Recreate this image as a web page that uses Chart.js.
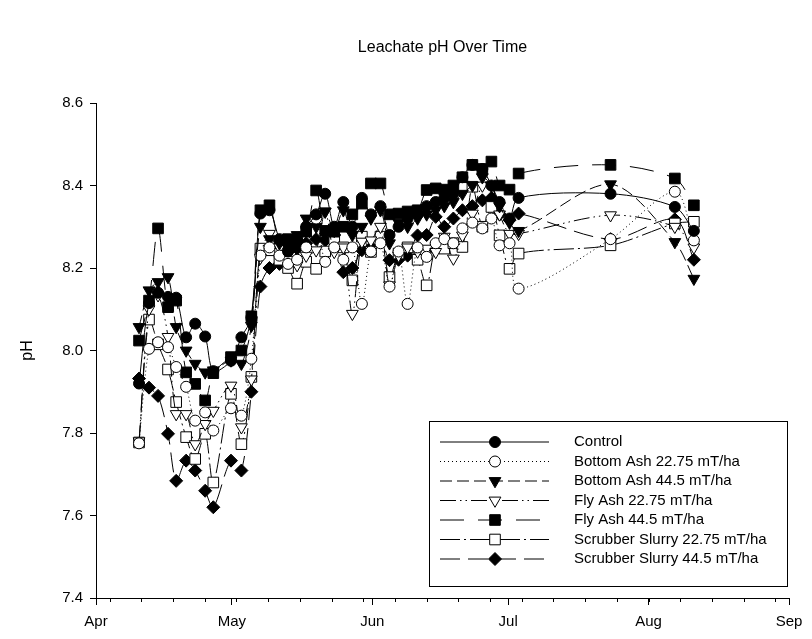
<!DOCTYPE html>
<html>
<head>
<meta charset="utf-8">
<title>Leachate pH Over Time</title>
<script src="https://cdn.jsdelivr.net/npm/chart.js@4.4.1/dist/chart.umd.min.js"></script>
<style>
  html, body { margin: 0; padding: 0; background: #fff; }
</style>
</head>
<body>
<canvas id="chart" width="812" height="639"></canvas>
<script>
// sampling days, counted from 1 April
const days = [9.5, 11.7, 13.7, 15.9, 17.7, 19.9, 21.9, 24.1, 25.9, 29.8, 32.1, 34.3, 36.3, 38.3,
  40.5, 42.4, 44.4, 46.4, 48.6, 50.6, 52.6, 54.6, 56.6, 58.7, 60.7, 62.8, 64.8, 66.8, 68.8,
  71.0, 73.0, 75.0, 76.9, 78.9, 80.9, 83.1, 85.3, 87.3, 89.1, 91.3, 93.3,
  113.6, 127.8, 132.0];

const control = [7.92, 8.115, 8.14, 8.13, 8.128, 8.032, 8.065, 8.034, 7.95, 7.975, 8.032, 8.08, 8.332, 8.34,
  8.27, 8.24, 8.27, 8.30, 8.33, 8.38, 8.30, 8.36, 8.30, 8.37, 8.33, 8.35, 8.28, 8.30, 8.32,
  8.33, 8.35, 8.36, 8.37, 8.38, 8.42, 8.45, 8.44, 8.40, 8.36, 8.32, 8.37,
  8.38, 8.348, 8.29];
const bottomAsh22 = [7.775, 8.004, 8.02, 8.008, 7.96, 7.912, 7.83, 7.85, 7.806, 7.86, 7.842, 7.98, 8.23, 8.25,
  8.23, 8.21, 8.22, 8.25, 8.32, 8.215, 8.25, 8.22, 8.25, 8.113, 8.24, 8.26, 8.155, 8.24, 8.113,
  8.25, 8.227, 8.26, 8.27, 8.26, 8.296, 8.31, 8.296, 8.32, 8.255, 8.26, 8.15,
  8.27, 8.385, 8.267];
const bottomAsh44 = [8.057, 8.146, 8.166, 8.178, 8.057, 8.0, 7.968, 7.947, 7.952, 7.976, 7.968, 8.06, 8.30, 8.27,
  8.26, 8.25, 8.28, 8.32, 8.30, 8.337, 8.29, 8.34, 8.28, 8.30, 8.32, 8.34, 8.26, 8.31, 8.30,
  8.32, 8.33, 8.34, 8.35, 8.36, 8.38, 8.40, 8.42, 8.40, 8.35, 8.31, 8.29,
  8.403, 8.263, 8.174];
const flyAsh22 = [7.78, 8.10, 8.134, 8.033, 7.846, 7.846, 7.773, 7.822, 7.854, 7.915, 7.814, 7.93, 8.225, 8.283,
  8.25, 8.22, 8.207, 8.23, 8.243, 8.337, 8.239, 8.25, 8.089, 8.264, 8.267, 8.30, 8.158, 8.23, 8.25,
  8.24, 8.247, 8.239, 8.276, 8.223, 8.279, 8.332, 8.40, 8.40, 8.33, 8.283, 8.283,
  8.328, 8.30, 8.25];
const flyAsh44 = [8.024, 8.121, 8.296, 8.105, 8.121, 7.947, 7.919, 7.879, 7.945, 7.984, 8.0, 8.083, 8.34, 8.352,
  8.26, 8.27, 8.26, 8.288, 8.388, 8.29, 8.288, 8.30, 8.33, 8.356, 8.405, 8.405, 8.33, 8.332, 8.337,
  8.34, 8.389, 8.393, 8.39, 8.40, 8.42, 8.45, 8.44, 8.458, 8.40, 8.39, 8.429,
  8.45, 8.417, 8.352];
const scrubber22 = [7.777, 8.075, 8.015, 7.954, 7.875, 7.79, 7.737, 7.798, 7.68, 7.895, 7.773, 7.936, 8.247, 8.243,
  8.22, 8.20, 8.162, 8.215, 8.198, 8.24, 8.27, 8.25, 8.17, 8.276, 8.239, 8.276, 8.178, 8.235, 8.25,
  8.22, 8.158, 8.25, 8.247, 8.26, 8.251, 8.397, 8.30, 8.348, 8.279, 8.198, 8.235,
  8.255, 8.308, 8.312];
const scrubber44 = [7.932, 7.91, 7.89, 7.798, 7.684, 7.733, 7.709, 7.66, 7.62, 7.733, 7.709, 7.90, 8.155, 8.20,
  8.21, 8.24, 8.247, 8.26, 8.27, 8.267, 8.28, 8.19, 8.20, 8.243, 8.25, 8.27, 8.219, 8.22, 8.23,
  8.279, 8.28, 8.324, 8.30, 8.32, 8.34, 8.35, 8.364, 8.37, 8.33, 8.316, 8.332,
  8.27, 8.318, 8.22];

const seriesNames = ['Control', 'Bottom Ash 22.75 mT/ha', 'Bottom Ash 44.5 mT/ha', 'Fly Ash 22.75 mT/ha',
  'Fly Ash 44.5 mT/ha', 'Scrubber Slurry 22.75 mT/ha', 'Scrubber Slurry 44.5 mT/ha'];
const allSeries = [control, bottomAsh22, bottomAsh44, flyAsh22, flyAsh44, scrubber22, scrubber44];

const monthTicks = [0, 30, 61, 91, 122, 153];
const monthLabels = ['Apr', 'May', 'Jun', 'Jul', 'Aug', 'Sep'];
const weekTicks = [3, 10, 17, 24, 31, 38, 45, 52, 59, 66, 73, 80, 87, 94, 101, 108, 115, 122, 129, 136, 143, 150];
const yTicks = [7.4, 7.6, 7.8, 8.0, 8.2, 8.4, 8.6];

// line / marker look per series
const looks = [
  { dash: [], shape: 'circle', rot: 0, r: 5.5, filled: true },
  { dash: [1, 3], shape: 'circle', rot: 0, r: 5.5, filled: false },
  { dash: [12, 5], shape: 'triangle', rot: 180, r: 6.8, filled: true },
  { dash: [16, 4, 1.5, 4, 1.5, 4], shape: 'triangle', rot: 180, r: 6.8, filled: false },
  { dash: [24, 14], shape: 'rect', rot: 0, r: 7.5, filled: true },
  { dash: [20, 4, 2, 4], shape: 'rect', rot: 0, r: 7.5, filled: false },
  { dash: [20, 8], shape: 'rectRot', rot: 0, r: 6.5, filled: true }
];

const FONT = '"Liberation Sans", Arial, sans-serif';

const datasets = seriesNames.map((name, i) => ({
  label: name,
  data: days.map((d, j) => ({ x: d, y: allSeries[i][j] })),
  borderColor: '#000',
  borderWidth: 1,
  borderDash: looks[i].dash,
  pointStyle: looks[i].shape,
  pointRotation: looks[i].rot,
  pointRadius: looks[i].r,
  pointBackgroundColor: looks[i].filled ? '#000' : '#fff',
  pointBorderColor: '#000',
  pointBorderWidth: 1,
  tension: 0.3,
  fill: false
}));

function drawMarker(ctx, look, x, y) {
  const r = look.r;
  ctx.beginPath();
  if (look.shape === 'circle') {
    ctx.arc(x, y, r, 0, Math.PI * 2);
  } else if (look.shape === 'triangle') {
    ctx.moveTo(x, y + r);
    ctx.lineTo(x - 0.866 * r, y - 0.5 * r);
    ctx.lineTo(x + 0.866 * r, y - 0.5 * r);
  } else if (look.shape === 'rect') {
    const s = Math.SQRT1_2 * r;
    ctx.rect(x - s, y - s, 2 * s, 2 * s);
  } else {
    ctx.moveTo(x, y - r);
    ctx.lineTo(x + r, y);
    ctx.lineTo(x, y + r);
    ctx.lineTo(x - r, y);
  }
  ctx.closePath();
  ctx.fillStyle = look.filled ? '#000' : '#fff';
  ctx.fill();
  ctx.setLineDash([]);
  ctx.stroke();
}

const extras = {
  id: 'extras',
  afterDraw(chart) {
    const { ctx, chartArea, scales } = chart;
    ctx.save();
    ctx.fillStyle = '#000';
    ctx.strokeStyle = '#000';
    ctx.lineWidth = 1;

    // title
    ctx.font = '16px ' + FONT;
    ctx.textAlign = 'center';
    ctx.textBaseline = 'middle';
    ctx.fillText('Leachate pH Over Time', (chartArea.left + chartArea.right) / 2, 48);

    // weekly minor ticks
    ctx.beginPath();
    weekTicks.forEach(d => {
      const px = Math.round(scales.x.getPixelForValue(d)) + 0.5;
      ctx.moveTo(px, chartArea.bottom);
      ctx.lineTo(px, chartArea.bottom + 4);
    });
    ctx.stroke();

    // legend box
    const bx = 429.5, by = 421.5, bw = 358, bh = 165;
    ctx.fillStyle = '#fff';
    ctx.fillRect(bx, by, bw, bh);
    ctx.strokeRect(bx, by, bw, bh);
    ctx.font = '15px ' + FONT;
    ctx.textAlign = 'left';
    seriesNames.forEach((name, i) => {
      const y = 442 + i * 19.5;
      ctx.setLineDash(looks[i].dash);
      ctx.beginPath();
      ctx.moveTo(440, y);
      ctx.lineTo(549, y);
      ctx.stroke();
      drawMarker(ctx, looks[i], 495, y);
      ctx.fillStyle = '#000';
      ctx.fillText(name, 574, y);
    });
    ctx.restore();
  }
};

new Chart(document.getElementById('chart'), {
  type: 'line',
  data: { datasets: datasets },
  plugins: [extras],
  options: {
    responsive: false,
    animation: false,
    layout: { padding: { top: 103, right: 23, bottom: 0, left: 0 } },
    plugins: { legend: { display: false }, tooltip: { enabled: false }, title: { display: false } },
    scales: {
      x: {
        type: 'linear',
        min: 0,
        max: 153,
        afterBuildTicks: s => { s.ticks = monthTicks.map(v => ({ value: v })); },
        afterFit: s => { s.height = 41; },
        ticks: {
          autoSkip: false,
          maxRotation: 0,
          padding: 8,
          color: '#000',
          font: { family: FONT, size: 15 },
          callback: v => monthLabels[monthTicks.indexOf(v)]
        },
        grid: { drawOnChartArea: false, drawTicks: true, tickLength: 7, tickColor: '#000' },
        border: { display: true, color: '#000', width: 1 }
      },
      y: {
        min: 7.4,
        max: 8.6,
        afterBuildTicks: s => { s.ticks = yTicks.map(v => ({ value: v })); },
        afterFit: s => { s.width = 96; },
        ticks: {
          padding: 7,
          color: '#000',
          font: { family: FONT, size: 15 },
          callback: v => Number(v).toFixed(1)
        },
        title: {
          display: true,
          text: 'pH',
          color: '#000',
          font: { family: FONT, size: 16 },
          padding: { top: 18, bottom: 0 }
        },
        grid: { drawOnChartArea: false, drawTicks: true, tickLength: 6, tickColor: '#000' },
        border: { display: true, color: '#000', width: 1 }
      }
    }
  }
});
</script>
</body>
</html>
